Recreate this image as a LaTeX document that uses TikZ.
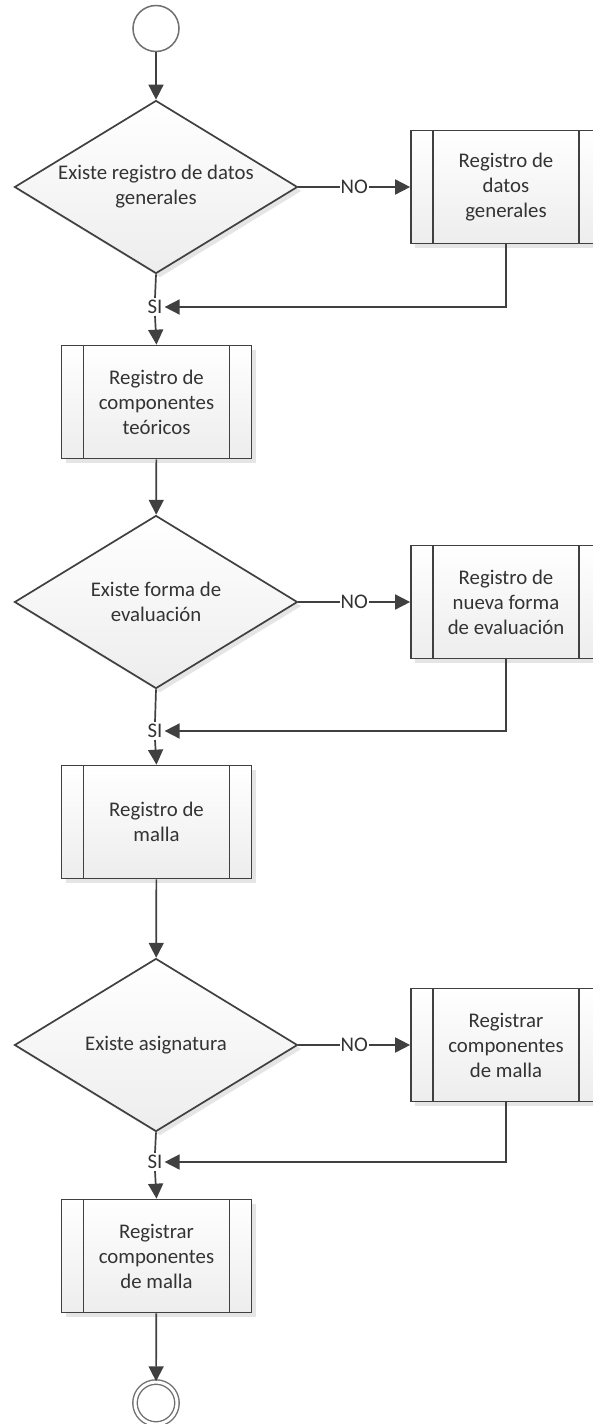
\documentclass[tikz,border=0pt]{standalone}
\usepackage{fontspec}
\setmainfont{Carlito}
\usetikzlibrary{shapes.geometric,arrows.meta,shadows}
\definecolor{linec}{HTML}{404040}
\definecolor{txtc}{HTML}{333333}
\definecolor{fillbot}{HTML}{EDEDED}
\definecolor{circc}{HTML}{707070}
\tikzset{
  txt/.style={text=txtc, font=\fontsize{20.8}{25}\selectfont},
  base/.style={draw=linec, line width=1.7pt, top color=white, bottom color=fillbot,
    drop shadow={shadow xshift=4pt, shadow yshift=-4pt, fill=black, opacity=0.1}},
  procbox/.style={base, txt, rectangle, minimum width=190pt, minimum height=113pt,
    inner sep=0pt, align=center,
    path picture={\draw[linec, line width=1.7pt]
      ([xshift=22pt]path picture bounding box.north west) -- ([xshift=22pt]path picture bounding box.south west)
      ([xshift=-22pt]path picture bounding box.north east) -- ([xshift=-22pt]path picture bounding box.south east);}},
  decbox/.style={base, diamond, minimum width=283pt, minimum height=173pt, inner sep=0pt},
  dectext/.style={label={[txt, align=center]center:{#1}}},
  startnode/.style={circle, draw=circc, line width=1.5pt, fill=white, minimum size=46pt, inner sep=0pt},
  endnode/.style={circle, draw=circc, line width=1.4pt, double=white, double distance=3pt, minimum size=42pt, inner sep=0pt},
  conn/.style={draw=linec, line width=1.7pt},
  arrow/.style={conn, -{Triangle[length=15pt,width=15pt]}},
  nolbl/.style={txt, fill=white, inner sep=1pt},
  silbl/.style={txt, inner sep=2pt},
}
\begin{document}
\begin{tikzpicture}[x=1pt, y=-1pt]
\useasboundingbox[fill=white] (0,0) rectangle (592,1424);

\node[startnode] (start) at (156,28.5) {};

\node[decbox, dectext={Existe registro de datos\\generales}] (d1) at (156,187) {};
\node[procbox] (p1) at (506,187) {Registro de\\datos\\generales};
\node[silbl] (si1) at (155,307) {SI};
\node[procbox] (p2) at (156.5,402) {Registro de\\componentes\\teóricos};

\node[decbox, dectext={Existe forma de\\evaluación}] (d2) at (156,602) {};
\node[procbox] (p3) at (506,602) {Registro de\\nueva forma\\de evaluación};
\node[silbl] (si2) at (155,731) {SI};
\node[procbox] (p4) at (156.5,822) {Registro de\\malla};

\node[decbox, dectext={Existe asignatura}] (d3) at (156,1045) {};
\node[procbox] (p5) at (506,1045) {Registrar\\componentes\\de malla};
\node[silbl] (si3) at (155,1162) {SI};
\node[procbox] (p6) at (156.5,1256) {Registrar\\componentes\\de malla};

\node[endnode] (end) at (156,1403) {};

\draw[arrow] (start) -- (d1);
\draw[arrow] (d1.east) -- node[nolbl]{NO} (p1.west);
\draw[conn] (d1.south) -- (si1.north);
\draw[arrow] (p1.south) |- (si1.east);
\draw[arrow] (si1.south) -- (p2.north);
\draw[arrow] (p2) -- (d2);

\draw[arrow] (d2.east) -- node[nolbl]{NO} (p3.west);
\draw[conn] (d2.south) -- (si2.north);
\draw[arrow] (p3.south) |- (si2.east);
\draw[arrow] (si2.south) -- (p4.north);
\draw[arrow] (p4) -- (d3);

\draw[arrow] (d3.east) -- node[nolbl]{NO} (p5.west);
\draw[conn] (d3.south) -- (si3.north);
\draw[arrow] (p5.south) |- (si3.east);
\draw[arrow] (si3.south) -- (p6.north);
\draw[arrow] (p6) -- (end);
\end{tikzpicture}
\end{document}
